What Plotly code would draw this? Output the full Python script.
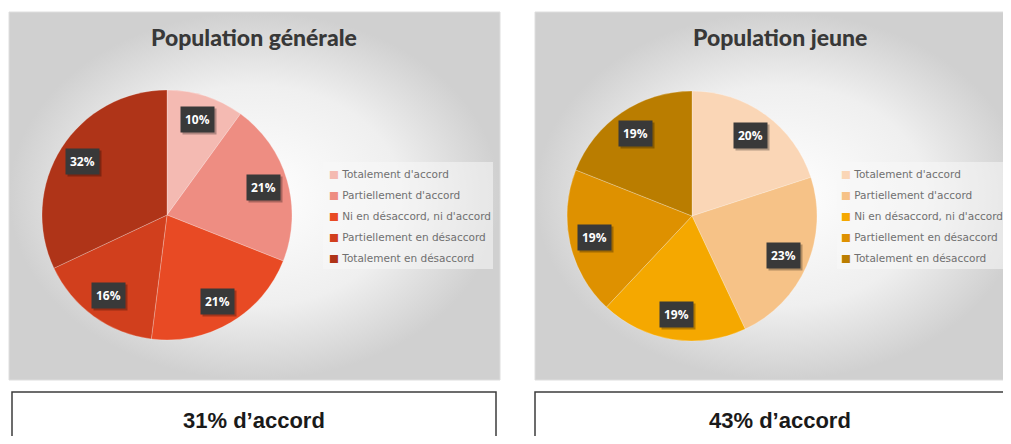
import math
import plotly.graph_objects as go

categories = ["Totalement d'accord", "Partiellement d'accord", "Ni en désaccord, ni d'accord",
              "Partiellement en désaccord", "Totalement en désaccord"]
general_values = [10, 21, 21, 16, 32]
jeune_values = [20, 23, 19, 19, 19]
general_colors = ["#F4BAB2", "#EE8D82", "#E84A24", "#D13F1D", "#AF3418"]
jeune_colors = ["#FAD6B6", "#F6C287", "#F5A800", "#DE9100", "#BA7D00"]
titles = ["Population générale", "Population jeune"]
accord_text = ["31% d’accord", "43% d’accord"]

W, H = 1011, 444
OFF = 8  # the page body keeps an 8px margin, so the figure sits inside it
FW, FH = W - 2 * OFF, H - 2 * OFF


def px(x):
    return (x - OFF) / FW


def py(y):
    return 1 - (y - OFF) / FH


fig = go.Figure()

# grey gradient panels behind each pie
panels = [(9, 500), (535, 1025)]
for x0, x1 in panels:
    fig.add_trace(go.Scatter(
        x=[x0, x1, x1, x0, x0], y=[12, 12, 380, 380, 12],
        fill="toself", mode="lines", line=dict(color="#dedede", width=1),
        fillgradient=dict(type="radial", colorscale=[[0, "#ffffff"], [0.6, "#efefef"], [1, "#d0d0d0"]]),
        showlegend=False, hoverinfo="skip"))

# values, colours, pie centre, legend, legend left edge
pies = [
    (general_values, general_colors, (167, 215), "legend", 323),
    (jeune_values, jeune_colors, (692, 216), "legend2", 837),
]
R = 125

for values, colors, (cx, cy), leg, lx0 in pies:
    fig.add_trace(go.Pie(
        values=values, labels=categories, sort=False, direction="clockwise", rotation=0,
        marker=dict(colors=colors, line=dict(color="rgba(255,255,255,0.35)", width=0.7)),
        textinfo="none", showlegend=False, hoverinfo="label+percent",
        domain=dict(x=[px(cx - R), px(cx + R)], y=[py(cy + R), py(cy - R)])))

    # legend background box
    fig.add_shape(type="rect", xref="x", yref="y", x0=lx0, x1=lx0 + 170, y0=162, y1=269,
                  line=dict(width=0), fillcolor="rgba(248,248,248,0.55)", layer="above")

    # legend entries: small coloured square in front of each label
    for i, (cat, col) in enumerate(zip(categories, colors)):
        fig.add_trace(go.Scatter(
            x=[None], y=[None], mode="markers", legend=leg, legendgroup=leg + str(i),
            name="<span style='color:%s'>■</span> %s" % (col, cat),
            marker=dict(symbol="square", size=1, color="rgba(0,0,0,0)")))

    # percentage labels in dark boxes
    total = sum(values)
    cum = 0
    for v in values:
        theta = 2 * math.pi * (cum + v / 2) / total
        cum += v
        lx = cx + 0.8 * R * math.sin(theta)
        ly = cy - 0.8 * R * math.cos(theta)
        txt = "%d%%" % round(100 * v / total)
        fig.add_annotation(x=lx, y=ly, xref="x", yref="y", text=txt, showarrow=False,
                           xshift=2, yshift=-2, bgcolor="rgba(0,0,0,0.28)", borderpad=4,
                           font=dict(family="Open Sans", size=12, color="rgba(0,0,0,0)", weight="bold"))
        fig.add_annotation(x=lx, y=ly, xref="x", yref="y", text=txt, showarrow=False,
                           bgcolor="#393939", borderpad=4,
                           font=dict(family="Open Sans", size=12, color="white", weight="bold"))

# titles
for tx, t in zip([254, 780], titles):
    fig.add_annotation(x=tx, y=37, xref="x", yref="y", text=t, showarrow=False,
                       font=dict(family="Lato", size=23, color="#383838", weight=900))

# bottom boxes
boxes = [(12, 496), (535, 1020)]
for (x0, x1), t, tx in zip(boxes, accord_text, [254, 780]):
    fig.add_shape(type="rect", xref="x", yref="y", x0=x0, x1=x1, y0=392, y1=450,
                  line=dict(color="#3c3c3c", width=1.5), fillcolor="white")
    fig.add_annotation(x=tx, y=420, xref="x", yref="y", text=t, showarrow=False,
                       font=dict(family="Liberation Sans Narrow, Liberation Sans", size=22,
                                 color="#1a1a1a", weight="bold"))

legend_style = dict(xanchor="left", yanchor="top", bgcolor="rgba(0,0,0,0)",
                    font=dict(family="DejaVu Sans", size=10.5, color="#707070"),
                    tracegroupgap=2, itemwidth=30, borderwidth=0)

fig.update_layout(
    width=FW, height=FH,
    margin=dict(l=0, r=0, t=0, b=0, autoexpand=False),
    paper_bgcolor="white", plot_bgcolor="white",
    xaxis=dict(range=[OFF, OFF + FW], visible=False, fixedrange=True),
    yaxis=dict(range=[OFF + FH, OFF], visible=False, fixedrange=True),
    legend=dict(x=px(329 - 40), y=py(159), **legend_style),
    legend2=dict(x=px(841 - 40), y=py(159), **legend_style),
)

fig.write_html("out.html", config={"displayModeBar": False})
